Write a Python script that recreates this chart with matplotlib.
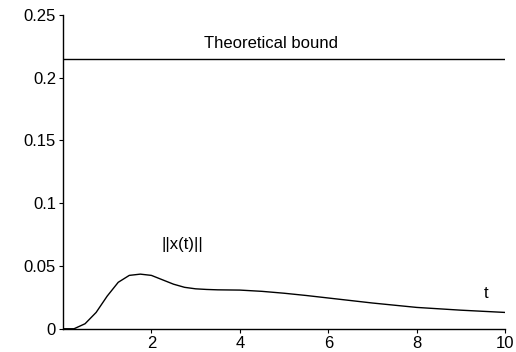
import matplotlib
matplotlib.use("Agg")
import matplotlib.pyplot as plt

plt.rcParams['font.family'] = ['Liberation Sans', 'DejaVu Sans']

# values
t = [0, 0.25, 0.5, 0.75, 1.0, 1.25, 1.5, 1.75, 2.0, 2.25, 2.5, 2.75, 3.0,
     3.25, 3.5, 4.0, 4.5, 5.0, 5.5, 6.0, 7.0, 8.0, 9.0, 10.0]
x_norm = [0, 0, 0.004, 0.013, 0.026, 0.037, 0.0425, 0.0435, 0.0425, 0.039,
          0.0355, 0.033, 0.0318, 0.0313, 0.031, 0.0308, 0.0298, 0.0283,
          0.0265, 0.0245, 0.0205, 0.017, 0.0148, 0.013]
bound = 0.215

x_ticks = [2, 4, 6, 8, 10]
x_ticklabels = ['2', '4', '6', '8', '10']
y_ticks = [0, 0.05, 0.1, 0.15, 0.2, 0.25]
y_ticklabels = ['0', '0.05', '0.1', '0.15', '0.2', '0.25']

fig = plt.figure(figsize=(5.16, 3.52), dpi=100)
ax = fig.add_axes([0.122, 0.066, 0.857, 0.892])

ax.plot(t, x_norm, color='black', lw=1.0)
ax.plot([0, 10], [bound, bound], color='black', lw=1.0)

ax.text(4.7, 0.227, 'Theoretical bound', fontsize=12, ha='center', va='center')
ax.text(2.7, 0.067, '||x(t)||', fontsize=12, ha='center', va='center')
ax.text(9.57, 0.028, 't', fontsize=12, ha='center', va='center')

ax.set_xlim(0, 10)
ax.set_ylim(0, 0.25)
ax.set_xticks(x_ticks)
ax.set_xticklabels(x_ticklabels)
ax.set_yticks(y_ticks)
ax.set_yticklabels(y_ticklabels)
ax.tick_params(labelsize=12, length=3, width=0.8, color='black', pad=2)
ax.spines['top'].set_visible(False)
ax.spines['right'].set_visible(False)
for s in ['left', 'bottom']:
    ax.spines[s].set_linewidth(1.0)

fig.savefig('out.png', dpi=100)
